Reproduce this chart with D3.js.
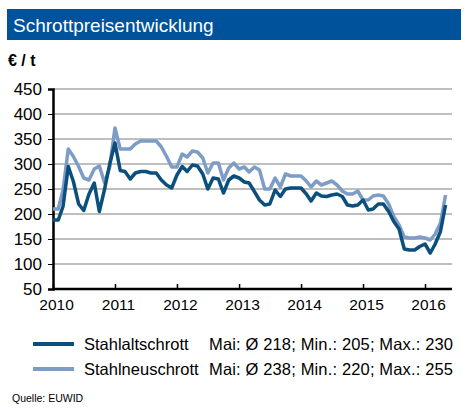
<!DOCTYPE html>
<html><head><meta charset="utf-8">
<script src="https://cdn.jsdelivr.net/npm/d3@7"></script>
<style>body{margin:0;background:#fff;font-family:"Liberation Sans",Arial,sans-serif}</style>
</head><body><div id="chart"></div>
<script>
const yTicks = [50, 100, 150, 200, 250, 300, 350, 400, 450];
const years = [2010, 2011, 2012, 2013, 2014, 2015, 2016];
// monthly, Jan 2010 .. May 2016
const altschrott = [188,188,215,295,265,220,207,240,262,205,250,300,342,287,285,270,282,285,285,282,282,268,258,252,278,295,285,298,296,280,250,272,270,242,268,276,272,264,262,245,228,218,220,248,235,250,252,252,252,240,226,242,236,235,238,240,235,218,216,218,228,208,210,220,220,205,185,170,130,128,128,135,140,122,140,165,218];
const neuschrott = [210,210,248,330,315,295,272,268,290,296,262,294,372,330,330,330,340,346,346,346,346,334,315,294,294,320,314,326,324,312,282,302,302,268,292,302,290,294,284,294,288,250,250,272,254,280,276,276,276,266,254,266,258,262,266,258,246,240,240,246,228,228,236,238,236,220,195,178,154,152,152,154,152,148,160,182,238];
const series = [
  {name: "Stahlaltschrott", info: "Mai: Ø 218; Min.: 205; Max.: 230", values: altschrott, color: "#0c4f7c"},
  {name: "Stahlneuschrott", info: "Mai: Ø 238; Min.: 220; Max.: 255", values: neuschrott, color: "#7d9dc6"}
];

const svg = d3.select("#chart").append("svg").attr("width", 470).attr("height", 409);

svg.append("rect").attr("x", 7).attr("y", 9).attr("width", 454).attr("height", 31).attr("fill", "#00529b");
svg.append("text").attr("x", 13).attr("y", 32).attr("fill", "#fff").attr("font-size", 19).text("Schrottpreisentwicklung");
svg.append("text").attr("x", 8).attr("y", 66).attr("font-size", 16).attr("font-weight", "bold").text("€ / t");

const x = d3.scaleTime().domain([new Date(2010, 0, 1), new Date(2016, 0, 1)]).range([53, 425]);
const y = d3.scaleLinear().domain([50, 450]).range([289, 89]);

svg.append("g").selectAll("line").data(yTicks.slice(1)).join("line")
  .attr("x1", 53).attr("x2", 452).attr("y1", d => y(d)).attr("y2", d => y(d))
  .attr("stroke", "#aaa").attr("stroke-width", 1.5);

const yAxis = svg.append("g").attr("transform", "translate(53,0)")
  .call(d3.axisLeft(y).tickValues(yTicks).tickSize(5).tickPadding(6));
yAxis.select(".domain").attr("stroke-width", 2.5);
yAxis.selectAll("text").attr("font-size", 17).attr("fill", "#000").attr("font-family", "Liberation Sans, Arial");

const xAxis = svg.append("g").attr("transform", "translate(0,289)")
  .call(d3.axisBottom(x).tickValues(years.map(v => new Date(v, 0, 1))).tickFormat(d3.timeFormat("%Y")).tickSize(-5).tickSizeOuter(0).tickPadding(10));
xAxis.select(".domain").attr("stroke-width", 2.5).attr("d", "M53,0H452");
xAxis.selectAll("line").attr("stroke-width", 1.5);
xAxis.selectAll("text").attr("font-size", 15.5).attr("fill", "#000").attr("font-family", "Liberation Sans, Arial").attr("dx", 3);

const line = d3.line().x((d, i) => x(new Date(2010, i, 1))).y(d => y(d));
series.slice().reverse().forEach(s => {
  svg.append("path").attr("d", line(s.values)).attr("fill", "none")
    .attr("stroke", s.color).attr("stroke-width", 3.5).attr("stroke-linejoin", "round");
});

series.forEach((s, i) => {
  const ly = 344 + i * 25;
  svg.append("line").attr("x1", 33).attr("x2", 74).attr("y1", ly).attr("y2", ly)
    .attr("stroke", s.color).attr("stroke-width", 4);
  svg.append("text").attr("x", 84).attr("y", ly + 6).attr("font-size", 16.5).text(s.name);
  svg.append("text").attr("x", 209).attr("y", ly + 6).attr("font-size", 16.5).attr("textLength", 244).text(s.info);
});
svg.append("text").attr("x", 12).attr("y", 402).attr("font-size", 10.5).text("Quelle: EUWID");
</script></body></html>
